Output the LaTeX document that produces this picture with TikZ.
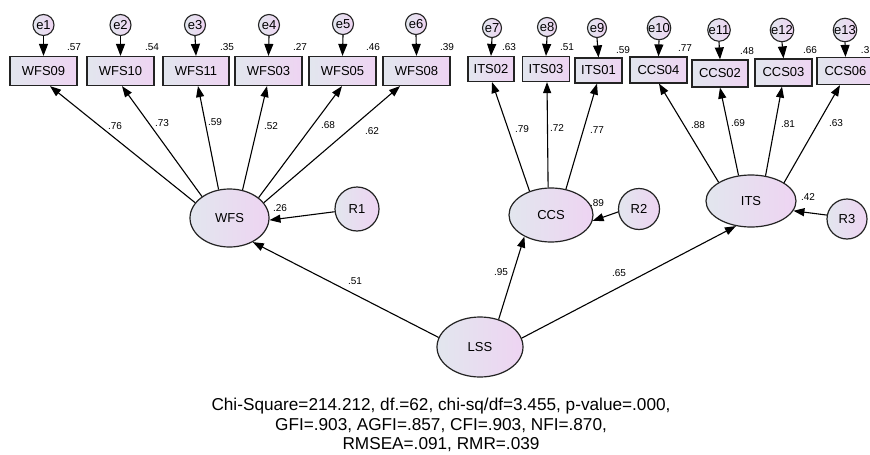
\documentclass[tikz,border=0pt]{standalone}
\usepackage{fontspec}
\setmainfont{Liberation Sans}
\usetikzlibrary{arrows.meta,shapes.geometric}
\definecolor{fillL}{RGB}{226,230,238}
\definecolor{fillR}{RGB}{238,212,242}
\definecolor{edgec}{RGB}{35,35,35}
\begin{document}
\begin{tikzpicture}[x=1pt,y=-1pt,
  obsbox/.style={draw=edgec, line width=1.2pt, rectangle, inner sep=0pt,
     left color=fillL, right color=fillR, font=\fontsize{13}{13}\selectfont},
  errc/.style={draw=edgec, line width=1.1pt, circle, inner sep=0pt,
     left color=fillL, right color=fillR, font=\fontsize{13}{13}\selectfont},
  latent/.style={draw=edgec, line width=1.2pt, ellipse, inner sep=0pt,
     left color=fillL, right color=fillR, font=\fontsize{13}{13}\selectfont},
  resid/.style={draw=edgec, line width=1.2pt, circle, inner sep=0pt,
     left color=fillL, right color=fillR, font=\fontsize{13}{13}\selectfont},
  lab/.style={font=\fontsize{10}{10}\selectfont, inner sep=0pt},
  ld/.style={-{Triangle[length=11pt,width=8pt]}, line width=1.1pt},
  ea/.style={-{Triangle[length=12pt,width=9pt]}, line width=1.1pt}]
\useasboundingbox (0,0) rectangle (870,455);
\clip (0,0) rectangle (870,455);
\fill[white] (0,0) rectangle (870,455);

% observed boxes
\node[obsbox, minimum width=67, minimum height=29] (b1) at (43.5,71) {WFS09};
\node[obsbox, minimum width=67, minimum height=29] (b2) at (120.5,71) {WFS10};
\node[obsbox, minimum width=66, minimum height=29] (b3) at (196,71) {WFS11};
\node[obsbox, minimum width=67, minimum height=29] (b4) at (268.5,71) {WFS03};
\node[obsbox, minimum width=67, minimum height=29] (b5) at (342.5,71) {WFS05};
\node[obsbox, minimum width=67, minimum height=29] (b6) at (416.5,71) {WFS08};
\node[obsbox, minimum width=46, minimum height=25] (b7) at (491,69) {ITS02};
\node[obsbox, minimum width=47, minimum height=25] (b8) at (546,69) {ITS03};
\node[obsbox, minimum width=47, minimum height=25] (b9) at (598.5,70.5) {ITS01};
\node[obsbox, minimum width=57, minimum height=26] (b10) at (658.5,70) {CCS04};
\node[obsbox, minimum width=56, minimum height=27] (b11) at (720,73.5) {CCS02};
\node[obsbox, minimum width=57, minimum height=27] (b12) at (783.5,72.5) {CCS03};
\node[obsbox, minimum width=57, minimum height=27] (b13) at (845.5,71) {CCS06};

% error circles
\node[errc, minimum size=21] (e1) at (43.5,25) {e1};
\node[errc, minimum size=21] (e2) at (120.5,25) {e2};
\node[errc, minimum size=21] (e3) at (195,25) {e3};
\node[errc, minimum size=21] (e4) at (269,25) {e4};
\node[errc, minimum size=21] (e5) at (343,24) {e5};
\node[errc, minimum size=21] (e6) at (416,24) {e6};
\node[errc, minimum size=19] (e7) at (492,28) {e7};
\node[errc, minimum size=19] (e8) at (547,27) {e8};
\node[errc, minimum size=19] (e9) at (597,28) {e9};
\node[errc, minimum size=19] (e10) at (659,28) {e10};
\node[errc, minimum size=19] (e11) at (719,30) {e11};
\node[errc, minimum size=19] (e12) at (782,30) {e12};
\node[errc, minimum size=19] (e13) at (845,30) {e13};

\foreach \i in {1,...,13} \draw[ea] (e\i.south) -- (b\i.north);

% R squared labels
\node[lab] (r1) at (74,47) {.57};
\node[lab] (r2) at (152,47) {.54};
\node[lab] (r3) at (227,47) {.35};
\node[lab] (r4) at (300,47) {.27};
\node[lab] (r5) at (373,47) {.46};
\node[lab] (r6) at (447,47) {.39};
\node[lab] (r7) at (509,47) {.63};
\node[lab] (r8) at (567,47) {.51};
\node[lab] (r9) at (623,50) {.59};
\node[lab] (r10) at (685,48) {.77};
\node[lab] (r11) at (747,51) {.48};
\node[lab] (r12) at (810,50) {.66};
\node[lab, anchor=east] (r13) at (869.5,50) {.3};

% latent variables
\node[latent, minimum width=79, minimum height=58] (wfs) at (229.5,218) {WFS};
\node[latent, minimum width=84, minimum height=54] (ccs) at (551,215) {CCS};
\node[latent, minimum width=90, minimum height=52] (its) at (751,201) {ITS};
\node[latent, minimum width=86, minimum height=60] (lss) at (480,347) {LSS};
\node[resid, minimum size=44] (R1) at (357,209) {R1};
\node[resid, minimum size=41] (R2) at (639,209) {R2};
\node[resid, minimum size=40] (R3) at (847,219) {R3};

% loadings WFS
\draw[ld] (wfs.156.5) -- ([xshift=6.5pt]b1.south);
\draw[ld] (wfs.142.6) -- ([xshift=1.5pt]b2.south);
\draw[ld] (wfs.111.6) -- ([xshift=2pt]b3.south);
\draw[ld] (wfs.65) -- ([xshift=-1.5pt]b4.south);
\draw[ld] (wfs.35.4) -- ([xshift=-0.5pt]b5.south);
\draw[ld] (wfs.24.3) -- ([xshift=-16.5pt]b6.south);
% loadings CCS
\draw[ld] (ccs.132.4) -- ([xshift=1pt]b7.south);
\draw[ld] (ccs.96) -- ([xshift=1pt]b8.south);
\draw[ld] (ccs.60.8) -- ([xshift=-1.5pt]b9.south);
% loadings ITS
\draw[ld] (its.150.1) -- ([xshift=0.5pt]b10.south);
\draw[ld] (its.116.6) -- (b11.south);
\draw[ld] (its.60) -- ([xshift=-1.5pt]b12.south);
\draw[ld] (its.29.2) -- ([xshift=-5.5pt]b13.south);

% residuals
\draw[ld] (R1.187) -- (wfs.-3);
\draw[ld] (R2.188) -- (ccs.-8);
\draw[ld] (R3.169) -- (its.-13.4);

% structural
\draw[ld] (lss.167) -- (wfs.-46.8);
\draw[ld] (lss.56.3) -- (ccs.-141.8);
\draw[ld] (lss.12) -- (its.-121.6);

% loading labels
\node[lab] (l1) at (115,126) {.76};
\node[lab] (l2) at (162,123) {.73};
\node[lab] (l3) at (215,122) {.59};
\node[lab] (l4) at (271,126) {.52};
\node[lab] (l5) at (328,125) {.68};
\node[lab] (l6) at (372,131) {.62};
\node[lab] (l7) at (522,129) {.79};
\node[lab] (l8) at (557,128) {.72};
\node[lab] (l9) at (597,130) {.77};
\node[lab] (l10) at (698,125) {.88};
\node[lab] (l11) at (738,123) {.69};
\node[lab] (l12) at (788,124) {.81};
\node[lab] (l13) at (836,123) {.63};
\node[lab] (q1) at (280,208) {.26};
\node[lab] (q2) at (597,203) {.89};
\node[lab] (q3) at (808,197) {.42};
\node[lab] (s1) at (355,281) {.51};
\node[lab] (s2) at (501,272) {.95};
\node[lab] (s3) at (619,273) {.65};

% fit statistics
\node[font=\fontsize{17.2}{19.5}\selectfont, align=center, inner sep=0pt] (fit) at (441,425)
 {Chi-Square=214.212, df.=62, chi-sq/df=3.455, p-value=.000,\\
  GFI=.903, AGFI=.857, CFI=.903, NFI=.870,\\
  RMSEA=.091, RMR=.039};
\end{tikzpicture}
\end{document}
